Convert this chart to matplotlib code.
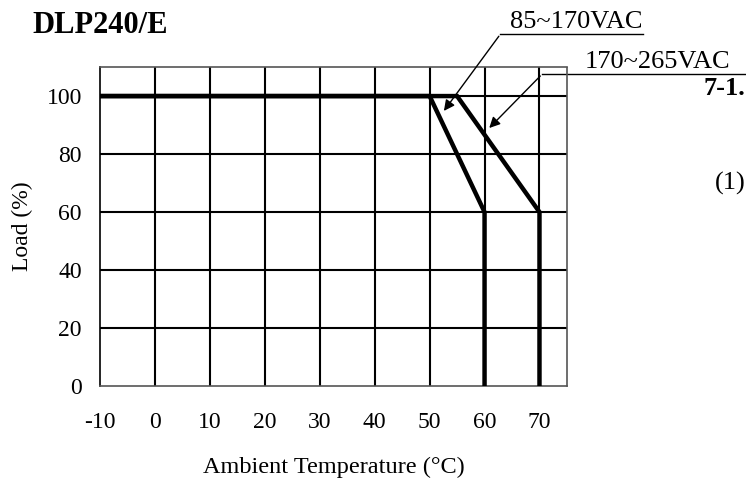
import matplotlib
matplotlib.use("Agg")
import matplotlib.pyplot as plt

# derating curves
temp_low = [-10, 50, 60, 60]
load_low = [100, 100, 60, 0]
temp_high = [-10, 55, 70, 70]
load_high = [100, 100, 60, 0]

x_ticks = [-10, 0, 10, 20, 30, 40, 50, 60, 70]
y_ticks = [0, 20, 40, 60, 80, 100]
label_low = "85~170VAC"
label_high = "170~265VAC"

plt.rcParams["font.family"] = ["Liberation Serif", "DejaVu Serif"]
plt.rcParams["axes.unicode_minus"] = False

fig = plt.figure(figsize=(7.46, 4.79), dpi=100)
ax = fig.add_axes([0.134, 0.194, 0.626, 0.666])

ax.set_xlim(-10, 75)
ax.set_ylim(0, 110)
ax.set_xticks(x_ticks)
ax.set_yticks(y_ticks)
ax.tick_params(length=0, labelsize=17)
ax.tick_params(axis="x", pad=19)
ax.tick_params(axis="y", pad=13)

# grid
for x in x_ticks[1:]:
    ax.axvline(x, color="black", lw=1.5, zorder=1)
for y in y_ticks[1:]:
    ax.axhline(y, color="black", lw=1.5, zorder=1)

for side in ["top", "right", "bottom", "left"]:
    ax.spines[side].set_color("#555555")
    ax.spines[side].set_linestyle((0, (1, 1)))
    ax.spines[side].set_linewidth(1.2)
ax.spines["left"].set_linestyle("-")
ax.spines["left"].set_color("black")

# curves
ax.plot(temp_low, load_low, color="black", lw=3.2, zorder=3, solid_joinstyle="miter")
ax.plot(temp_high, load_high, color="black", lw=3.2, zorder=3, solid_joinstyle="miter")

# callouts
ax.plot([62.9, 88.9], [121.4, 121.4], color="black", lw=1, clip_on=False)
ax.annotate("", xy=(52.3, 94.1), xytext=(62.9, 121.4), annotation_clip=False,
            arrowprops=dict(arrowstyle="-|>", color="black", lw=1, mutation_scale=16))
ax.plot([70.5, 108], [107.6, 107.6], color="black", lw=1, clip_on=False)
ax.annotate("", xy=(60.5, 88.3), xytext=(70.5, 107.6), annotation_clip=False,
            arrowprops=dict(arrowstyle="-|>", color="black", lw=1, mutation_scale=16))
fig.text(0.772, 0.954, label_low, fontsize=19, ha="center", va="center")
fig.text(0.881, 0.871, label_high, fontsize=19, ha="center", va="center")

ax.set_xlabel("Ambient Temperature (°C)", fontsize=17.5, labelpad=17)
ax.set_ylabel("Load (%)", fontsize=17, labelpad=10)

fig.text(0.044, 0.947, "DLP240/E", fontsize=22, fontweight="bold", ha="left", va="center")
fig.text(0.999, 0.816, "7-1.", fontsize=19, fontweight="bold", ha="right", va="center")
fig.text(0.999, 0.618, "(1)", fontsize=19, ha="right", va="center")

fig.savefig("out.png", dpi=100)
plt.close(fig)
